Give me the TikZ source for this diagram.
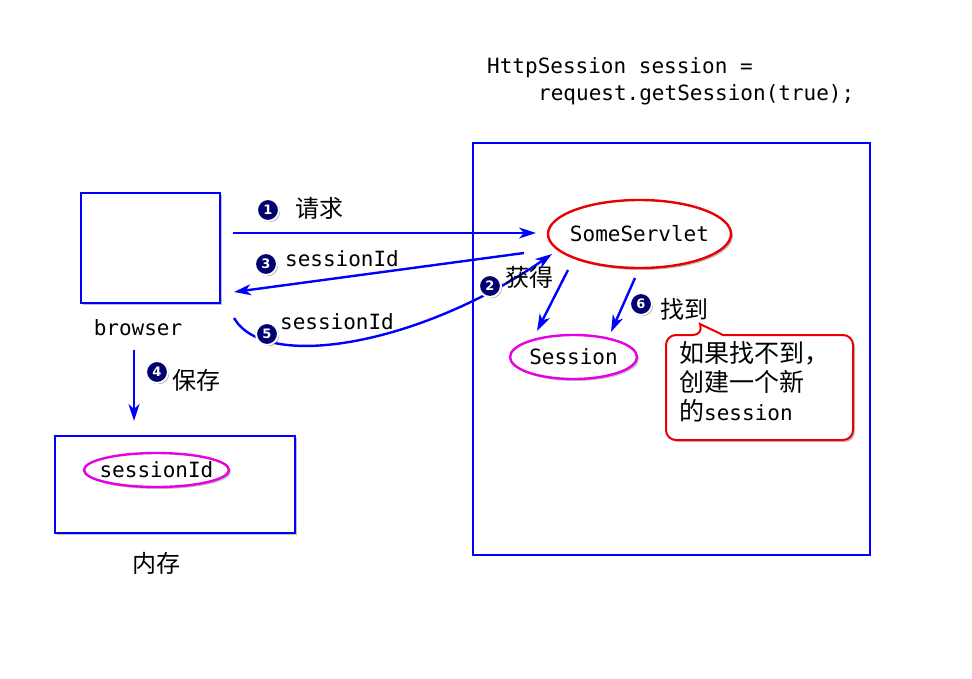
\documentclass[tikz,border=0pt]{standalone}
\usepackage{fontspec}
\setmonofont{DejaVu Sans Mono}
\setsansfont{DejaVu Sans}
\newfontfamily\cjk{Noto Sans CJK SC}
\usetikzlibrary{arrows.meta,shapes.geometric,shadows}
\definecolor{bl}{RGB}{0,0,255}
\definecolor{mg}{RGB}{230,0,230}
\definecolor{rd}{RGB}{235,0,0}
\definecolor{nv}{RGB}{0,0,110}
\begin{document}
\begin{tikzpicture}[x=1pt,y=-1pt,
  shd/.style={drop shadow={shadow xshift=2pt,shadow yshift=-2pt,opacity=0.25,fill=black}},
  box/.style={draw=bl,line width=2.6pt,fill=white,inner sep=0pt,shd},
  bigbox/.style={draw=bl,line width=2.6pt,inner sep=0pt},
  ell/.style={ellipse,line width=2.4pt,fill=white,inner sep=0pt,shd},
  mono/.style={inner sep=0pt,font=\fontsize{21}{25}\selectfont\ttfamily},
  zh/.style={inner sep=0pt,font=\fontsize{24}{28}\selectfont\cjk},
  num/.style={circle,fill=nv,draw=white,line width=2pt,minimum size=22pt,inner sep=0pt,
    text=white,font=\fontsize{13}{14}\selectfont\sffamily\bfseries,
    drop shadow={shadow xshift=1.2pt,shadow yshift=-1.2pt,opacity=0.45,fill=black}},
  arr/.style={draw=bl,line width=2.4pt,-{Stealth[length=17pt,width=11pt,inset=5pt]}}
]
\useasboundingbox (0,0) rectangle (972,678);

% boxes
\node[bigbox,minimum width=397pt,minimum height=412pt] (server) at (671.5,349) {};
\node[box,minimum width=139pt,minimum height=110pt] (browser) at (150.5,248) {};
\node[box,minimum width=240pt,minimum height=97pt] (mem) at (175,484.5) {};

% ellipses
\node[ell,draw=rd,minimum width=183pt,minimum height=68pt] (servlet) at (639.5,234) {};
\node[mono] (tservlet) at (servlet) {SomeServlet};
\node[ell,draw=mg,minimum width=127pt,minimum height=44pt] (session) at (573.5,357) {};
\node[mono] (tsession) at (session) {Session};
\node[ell,draw=mg,minimum width=145pt,minimum height=34pt] (sid) at (156.5,470) {};
\node[mono] (tsid) at (sid) {sessionId};

% code text
\node[mono,anchor=base west] (code1) at (487,73) {HttpSession session =};
\node[mono,anchor=base west] (code2) at (538,100) {request.getSession(true);};

% labels
\node[mono] (lbrowser) at (138,328) {browser};
\node[zh] (lmem) at (156,563) {内存};

% callout
\draw[rd,line width=2pt,fill=white,shd] (700,324) -- (723,335) [rounded corners=10pt] -- (853,335) -- (853,440) -- (666,440) -- (666,335) -- (703,335) [sharp corners] -- cycle;
\node[anchor=north west,align=left,inner sep=0pt,font=\fontsize{25}{29}\selectfont] (note) at (679,341)
  {{\cjk 如果找不到，}\\{\cjk 创建一个新}\\{\cjk 的}{\fontsize{21}{29}\selectfont\ttfamily session}};

% arrow end points
\coordinate (a1s) at (233,233);
\coordinate (a1e) at (536,233);
\coordinate (a3s) at (524,253);
\coordinate (a3e) at (234,292);
\coordinate (a5s) at (234,318);
\coordinate (a5e) at (552,254);
\coordinate (a2s) at (568,270);
\coordinate (a2e) at (537,331);
\coordinate (a6s) at (635,278);
\coordinate (a6e) at (611,332);
\coordinate (a4s) at (134,350);
\coordinate (a4e) at (134,421);

% arrows
\draw[arr] (a1s) -- (a1e);
\draw[arr] (a3s) -- (a3e);
\draw[arr] (a5s) .. controls (265,372) and (420,345) .. (a5e);
\draw[arr] (a2s) -- (a2e);
\draw[arr] (a6s) -- (a6e);
\draw[arr] (a4s) -- (a4e);

% arrow labels
\node[num] (n1) at (268,210) {1};
\node[zh] (t1) at (319,208) {请求};
\node[num] (n3) at (266,264) {3};
\node[mono] (t3) at (342,259) {sessionId};
\node[num] (n5) at (267,334) {5};
\node[mono] (t5) at (337,322) {sessionId};
\node[num] (n2) at (490,286) {2};
\node[zh] (t2) at (529,277) {获得};
\node[num] (n6) at (641,304) {6};
\node[zh] (t6) at (684,309) {找到};
\node[num] (n4) at (157,372) {4};
\node[zh] (t4) at (196,380) {保存};
\end{tikzpicture}
\end{document}
